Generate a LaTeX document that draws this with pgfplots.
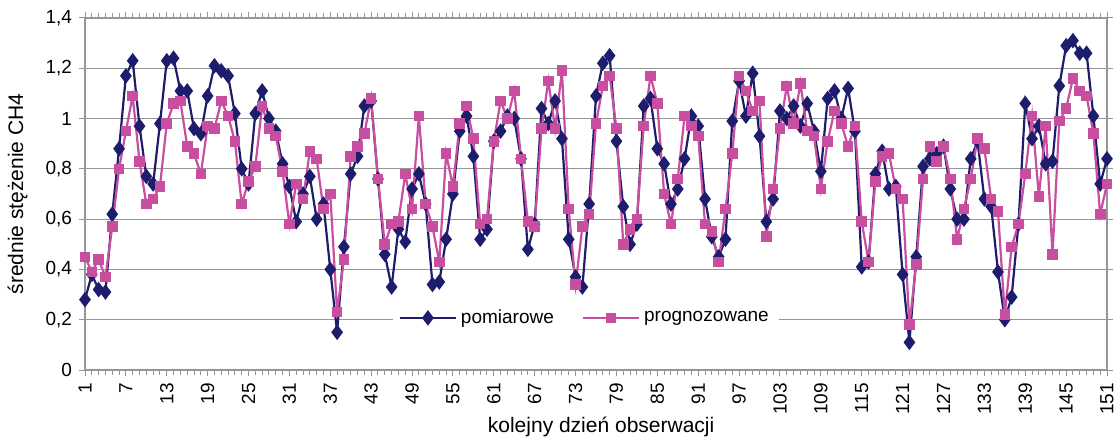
\documentclass[border=0pt]{standalone}
\usepackage{fontspec}
\setmainfont{Liberation Sans}
\usepackage{pgfplots}
\pgfplotsset{compat=1.18}
\usepackage{pgfplotstable}
\definecolor{pomc}{RGB}{30,28,108}
\definecolor{progc}{RGB}{200,78,160}
\definecolor{gridc}{RGB}{150,150,150}

\pgfplotstableread{
d v
1 0.28
2 0.38
3 0.32
4 0.31
5 0.62
6 0.88
7 1.17
8 1.23
9 0.97
10 0.77
11 0.74
12 0.98
13 1.23
14 1.24
15 1.11
16 1.11
17 0.96
18 0.94
19 1.09
20 1.21
21 1.19
22 1.17
23 1.02
24 0.80
25 0.74
26 1.02
27 1.11
28 1.00
29 0.95
30 0.82
31 0.73
32 0.59
33 0.70
34 0.77
35 0.60
36 0.66
37 0.40
38 0.15
39 0.49
40 0.78
41 0.85
42 1.05
43 1.07
44 0.76
45 0.46
46 0.33
47 0.56
48 0.51
49 0.72
50 0.78
51 0.66
52 0.34
53 0.35
54 0.52
55 0.70
56 0.95
57 1.01
58 0.85
59 0.52
60 0.56
61 0.91
62 0.95
63 1.01
64 1.00
65 0.84
66 0.48
67 0.58
68 1.04
69 0.98
70 1.07
71 0.92
72 0.52
73 0.37
74 0.33
75 0.66
76 1.09
77 1.22
78 1.25
79 0.91
80 0.65
81 0.50
82 0.58
83 1.05
84 1.08
85 0.88
86 0.82
87 0.66
88 0.72
89 0.84
90 1.01
91 0.97
92 0.68
93 0.53
94 0.45
95 0.52
96 0.99
97 1.15
98 1.01
99 1.18
100 0.93
101 0.59
102 0.68
103 1.03
104 1.00
105 1.05
106 0.97
107 1.06
108 0.95
109 0.79
110 1.08
111 1.11
112 1.00
113 1.12
114 0.95
115 0.41
116 0.43
117 0.78
118 0.87
119 0.72
120 0.73
121 0.38
122 0.11
123 0.45
124 0.81
125 0.84
126 0.86
127 0.89
128 0.72
129 0.60
130 0.60
131 0.84
132 0.91
133 0.68
134 0.65
135 0.39
136 0.20
137 0.29
138 0.58
139 1.06
140 0.92
141 0.97
142 0.82
143 0.83
144 1.13
145 1.29
146 1.31
147 1.26
148 1.26
149 1.01
150 0.74
151 0.84
}\pomtable

\pgfplotstableread{
d v
1 0.45
2 0.39
3 0.44
4 0.37
5 0.57
6 0.80
7 0.95
8 1.09
9 0.83
10 0.66
11 0.68
12 0.73
13 0.98
14 1.06
15 1.07
16 0.89
17 0.86
18 0.78
19 0.97
20 0.96
21 1.07
22 1.01
23 0.91
24 0.66
25 0.75
26 0.81
27 1.05
28 0.96
29 0.93
30 0.79
31 0.58
32 0.74
33 0.68
34 0.87
35 0.84
36 0.64
37 0.70
38 0.23
39 0.44
40 0.85
41 0.89
42 0.94
43 1.08
44 0.76
45 0.50
46 0.58
47 0.59
48 0.78
49 0.64
50 1.01
51 0.66
52 0.57
53 0.43
54 0.86
55 0.73
56 0.98
57 1.05
58 0.92
59 0.58
60 0.60
61 0.91
62 1.07
63 1.00
64 1.11
65 0.84
66 0.59
67 0.57
68 0.96
69 1.15
70 0.96
71 1.19
72 0.64
73 0.34
74 0.57
75 0.62
76 0.98
77 1.13
78 1.17
79 0.96
80 0.50
81 0.56
82 0.60
83 0.97
84 1.17
85 1.06
86 0.70
87 0.58
88 0.76
89 1.01
90 0.97
91 0.93
92 0.58
93 0.55
94 0.43
95 0.64
96 0.86
97 1.17
98 1.11
99 1.03
100 1.07
101 0.53
102 0.72
103 0.96
104 1.13
105 0.98
106 1.14
107 0.95
108 0.93
109 0.72
110 0.91
111 1.03
112 0.98
113 0.89
114 0.97
115 0.59
116 0.43
117 0.75
118 0.85
119 0.86
120 0.72
121 0.68
122 0.18
123 0.42
124 0.76
125 0.89
126 0.83
127 0.89
128 0.76
129 0.52
130 0.64
131 0.76
132 0.92
133 0.88
134 0.68
135 0.63
136 0.22
137 0.49
138 0.58
139 0.78
140 1.01
141 0.69
142 0.97
143 0.46
144 0.99
145 1.04
146 1.16
147 1.11
148 1.09
149 0.94
150 0.62
151 0.74
}\progtable

\begin{document}
\begin{tikzpicture}
\begin{axis}[
  name=ax,
  scale only axis,
  width=511pt, height=176pt,
  xmin=1, xmax=151, ymin=0, ymax=1.4,
  xtick={1,7,...,151},
  minor xtick={1,...,151},
  ytick={0,0.2,0.4,0.6,0.8,1,1.2,1.4},
  ymajorgrids,
  grid style={gridc, line width=0.6pt},
  axis line style={gridc, line width=0.8pt},
  tick style={gridc, line width=0.5pt},
  tick align=outside,
  major tick length=3pt, minor tick length=2.5pt,
  font=\fontsize{9.5}{11}\selectfont,
  /pgf/number format/assume math mode=true,
  yticklabel style={/pgf/number format/.cd, fixed, precision=1, use comma},
  xticklabel style={rotate=90, anchor=east},
  xlabel={kolejny dzień obserwacji},
  ylabel={średnie stężenie CH4},
  label style={font=\fontsize{10.5}{12}\selectfont},
  xlabel style={at={(axis description cs:0.505,-0.162)}, anchor=center},
  ylabel style={at={(axis description cs:-0.066,0.5)}, anchor=center},
  legend style={at={(0.49,0.148)}, anchor=center, draw=none, fill=white,
    legend columns=2, font=\fontsize{9.5}{11}\selectfont,
    /tikz/every even column/.append style={column sep=12pt}},
  legend image code/.code={\draw[#1, mark repeat=2, mark phase=2] plot coordinates {(0pt,0pt)(14pt,0pt)(28pt,0pt)};},
]
\addplot[pomc, line width=1.1pt, mark=diamond*, mark size=3pt, mark options={fill=pomc, draw=pomc}] table[x=d, y=v] {\pomtable};
\addlegendentry{pomiarowe}
\addplot[progc, line width=1.1pt, mark=square*, mark size=2.1pt, mark options={fill=progc, draw=progc}] table[x=d, y=v] {\progtable};
\addlegendentry{prognozowane}
\end{axis}
\pgfresetboundingbox
\path[use as bounding box] ([xshift=-42.5pt,yshift=-34.5pt]ax.south west) rectangle ([xshift=5pt,yshift=9pt]ax.north east);
\end{tikzpicture}
\end{document}
